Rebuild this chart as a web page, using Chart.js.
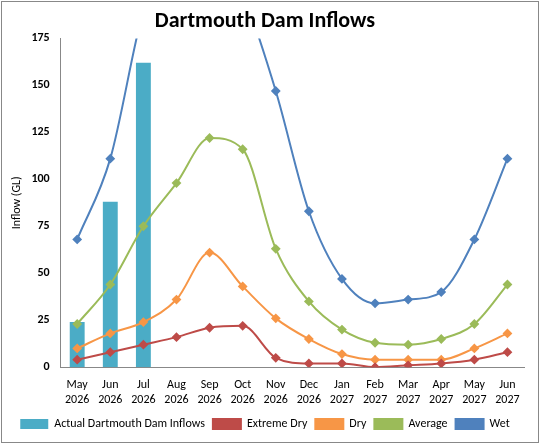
<!DOCTYPE html>
<html><head>
<script src="https://cdn.jsdelivr.net/npm/chart.js@4"></script>
<style>
body{margin:0;background:#fff}
#wrap{position:absolute;left:1px;top:1px;width:538px;height:442px;border:1px solid #888;box-sizing:border-box}
</style>
</head><body>
<div id="wrap"><canvas id="myChart"></canvas></div>
<script>
let labels1 = [['May','2026'],['Jun','2026'],['Jul','2026'],['Aug','2026'],['Sep','2026'],['Oct','2026'],['Nov','2026'],['Dec','2026'],['Jan','2027'],['Feb','2027'],['Mar','2027'],['Apr','2027'],['May','2027'],['Jun','2027']];
let actual = [24, 88, 162, null, null, null, null, null, null, null, null, null, null, null];
let extremeDry = [4, 8, 12, 16, 21, 22, 5, 2, 2, 0, 1, 2, 4, 8];
let dry = [10, 18, 24, 36, 61, 43, 26, 15, 7, 4, 4, 4, 10, 18];
let average = [23, 44, 75, 98, 122, 116, 63, 35, 20, 13, 12, 15, 23, 44];
let wet = [68, 111, 190, 235, 240, 200, 147, 83, 47, 34, 36, 40, 68, 111];
let yTicks = [0, 25, 50, 75, 100, 125, 150, 175];

function line(label, data, color) {
    return {type: 'line', label: label, data: data, borderColor: color, backgroundColor: color,
        pointStyle: 'rectRot', pointRadius: 3.5, borderWidth: 2, tension: 0.4, cubicInterpolationMode: 'monotone', order: 1};
}

Chart.defaults.font.family = 'Calibri, Carlito, "Liberation Sans", sans-serif';
Chart.defaults.color = '#000';

new Chart(document.getElementById('myChart').getContext('2d'), {
    data: {
        labels: labels1,
        datasets: [
            {type: 'bar', label: 'Actual Dartmouth Dam Inflows', data: actual, backgroundColor: '#4bacc6', barPercentage: 0.45, categoryPercentage: 1, order: 2},
            line('Extreme Dry', extremeDry, '#be4b48'),
            line('Dry', dry, '#f79646'),
            line('Average', average, '#9bbb59'),
            line('Wet', wet, '#4f81bd')
        ]
    },
    options: {
        responsive: true, maintainAspectRatio: false, animation: false,
        layout: {padding: {left: 4, right: 14, top: 2, bottom: 2}},
        plugins: {
            title: {display: true, text: 'Dartmouth Dam Inflows', font: {size: 22, weight: 'bold'}, padding: {top: 4, bottom: 4}},
            legend: {position: 'bottom', labels: {boxWidth: 28, boxHeight: 10, font: {size: 12}, padding: 8,
                sort: function(a, b) { return a.datasetIndex - b.datasetIndex; }}}
        },
        scales: {
            x: {grid: {display: false, drawTicks: true}, border: {color: '#888'}, ticks: {font: {size: 12}, maxRotation: 0, autoSkip: false}},
            y: {min: 0, max: 175, afterBuildTicks: function(a) { a.ticks = yTicks.map(function(v) { return {value: v}; }); },
                grid: {display: false}, border: {color: '#888'},
                title: {display: true, text: 'Inflow (GL)', font: {size: 12}},
                ticks: {font: {size: 12, weight: 'bold'}}}
        }
    }
});
</script>
</body></html>
